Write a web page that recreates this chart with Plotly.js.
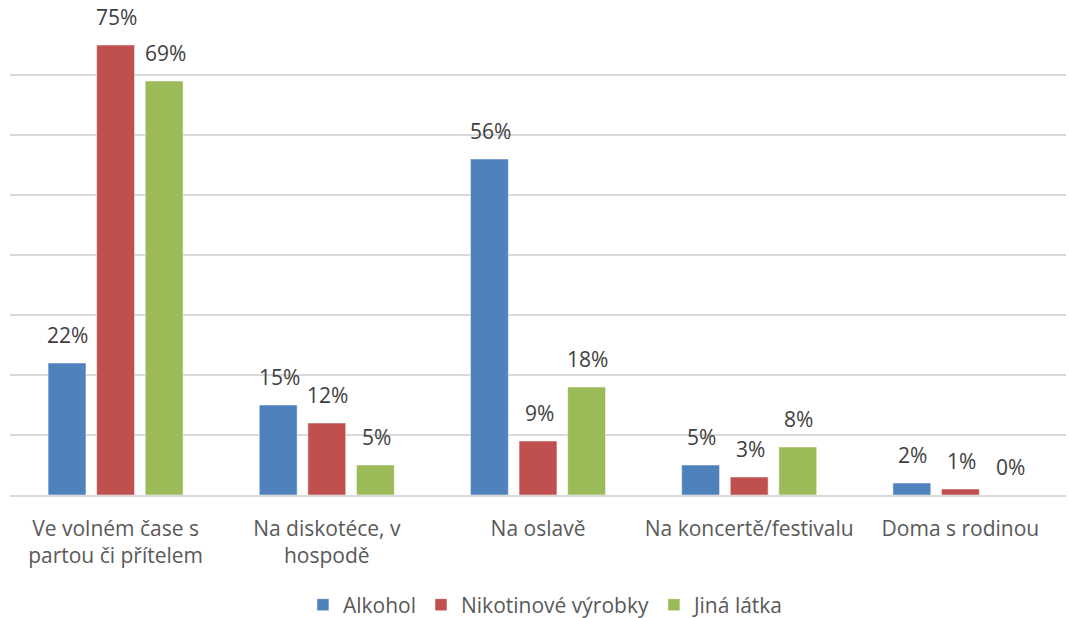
<!DOCTYPE html>
<html>
<head>
<meta charset="utf-8">
<script src="https://cdn.plot.ly/plotly-3.0.1.min.js"></script>
<style>html,body{margin:0;padding:0;background:#fff;}#chart{width:1069px;height:618px;}</style>
</head>
<body>
<div id="chart"></div>
<script>
const categories = ["Ve volném čase s<br>partou či přítelem", "Na diskotéce, v<br>hospodě", "Na oslavě", "Na koncertě/festivalu", "Doma s rodinou"];
const seriesNames = ["Alkohol", "Nikotinové výrobky", "Jiná látka"];
const alkohol = [22, 15, 56, 5, 2];
const nikotin = [75, 12, 9, 3, 1];
const jina = [69, 5, 18, 8, 0];
const colors = ["#4f81bd", "#c0504d", "#9bbb59"];

const seriesValues = [alkohol, nikotin, jina];
const FONT = "'Open Sans', Lato, sans-serif";

const traces = seriesValues.map((vals, i) => ({
  type: "bar",
  name: seriesNames[i],
  x: categories,
  y: vals,
  marker: {color: colors[i], line: {color: "#ffffff", width: 0.5}},
  hoverinfo: "none"
}));

const slot = 48.7;
const annotations = [];
seriesValues.forEach((vals, i) => {
  vals.forEach((v, j) => {
    annotations.push({
      x: categories[j], y: v, xref: "x", yref: "y",
      text: v + "%", showarrow: false,
      xshift: (i - 1) * slot + 1, yshift: 12, yanchor: "bottom",
      font: {family: FONT, size: 21, color: "#404040"}
    });
  });
});

const layout = {
  width: 1069, height: 618,
  margin: {l: 10, r: 3, t: 15, b: 123},
  paper_bgcolor: "#ffffff", plot_bgcolor: "#ffffff",
  barmode: "group", bargap: 0.31, bargroupgap: 0.22,
  font: {family: FONT, size: 21, color: "#595959"},
  xaxis: {
    showgrid: false, showline: true, linecolor: "#d9d9d9", linewidth: 1.5,
    ticks: "", ticklabelstandoff: 14, automargin: false,
    tickfont: {family: FONT, size: 21, color: "#595959"},
    fixedrange: true
  },
  yaxis: {
    range: [0, 80], dtick: 10, showticklabels: false, automargin: false,
    showgrid: true, gridcolor: "#d9d9d9", gridwidth: 1.5,
    zeroline: false, fixedrange: true
  },
  showlegend: true,
  legend: {
    orientation: "h", x: 0.508, xanchor: "center",
    yref: "container", y: 0.021, yanchor: "middle",
    font: {family: FONT, size: 21, color: "#595959"}, traceorder: "normal",
    itemwidth: 30
  },
  annotations: annotations
};

Plotly.newPlot("chart", traces, layout, {displayModeBar: false, staticPlot: true});
</script>
</body>
</html>
